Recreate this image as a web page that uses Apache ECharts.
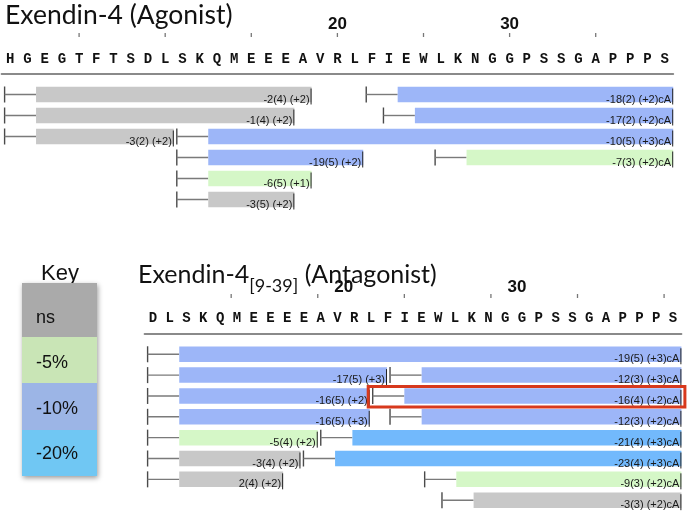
<!DOCTYPE html>
<html>
<head>
<meta charset="utf-8">
<script src="https://cdn.jsdelivr.net/npm/echarts@6/dist/echarts.min.js"></script>
<style>html,body{margin:0;padding:0;background:#fff}#c{width:689px;height:513px}</style>
</head>
<body>
<div id="c"></div>
<script>
// ---------- DATA ----------
const topSequence = 'HGEGTFTSDLSKQMEEEAVRLFIEWLKNGGPSSGAPPPS'.split('');
const bottomSequence = 'DLSKQMEEEEAVRLFIEWLKNGGPSSGAPPPS'.split('');
const topTicks = [5, 10, 15, 20, 25, 30, 35];
const topTickLabels = [20, 30];
const bottomTicks = [13.5, 18.5, 23.5, 28.5, 33.5, 38.5];
const bottomTickLabels = [20, 30];

const classes = ['ns', '-5%', '-10%', '-20%'];

// Agonist fragments
const topRows    = [1, 1, 2, 2, 3, 3, 4, 4, 5, 6];
const topStarts  = [1, 22, 1, 23, 1, 11, 11, 26, 11, 11];
const topEnds    = [18, 39, 17, 39, 10, 39, 21, 39, 18, 17];
const topClass   = ['ns', '-10%', 'ns', '-10%', 'ns', '-10%', '-10%', '-5%', '-5%', 'ns'];
const topLabels  = ['-2(4) (+2)', '-18(2) (+2)cA', '-1(4) (+2)', '-17(2) (+2)cA', '-3(2) (+2)', '-10(5) (+3)cA',
                    '-19(5) (+2)', '-7(3) (+2)cA', '-6(5) (+1)', '-3(5) (+2)'];

// Antagonist fragments
const botRows    = [1, 2, 2, 3, 3, 4, 4, 5, 5, 6, 6, 7, 7, 8];
const botStarts  = [9, 9, 23, 9, 22, 9, 23, 9, 19, 9, 18, 9, 25, 26];
const botEnds    = [39, 22, 39, 21, 39, 21, 39, 18, 39, 17, 39, 16, 39, 39];
const botClass   = ['-10%', '-10%', '-10%', '-10%', '-10%', '-10%', '-10%', '-5%', '-20%', 'ns', '-20%', 'ns', '-5%', 'ns'];
const botLabels  = ['-19(5) (+3)cA', '-17(5) (+3)', '-12(3) (+3)cA', '-16(5) (+2)', '-16(4) (+2)cA', '-16(5) (+3)', '-12(3) (+2)cA',
                    '-5(4) (+2)', '-21(4) (+3)cA', '-3(4) (+2)', '-23(4) (+3)cA', '2(4) (+2)', '-9(3) (+2)cA', '-3(3) (+2)cA'];
const highlighted = [4]; // index into bottom fragments

// ---------- STYLE ----------
const barColors = {'ns': '#c8c8c8', '-5%': '#d5f7c7', '-10%': '#9db6f8', '-20%': '#72b9fc'};
const keyColors = {'ns': '#aaaaaa', '-5%': '#c9e5b6', '-10%': '#9cb5e6', '-20%': '#70c7f3'};

function fragRenderer(rows, starts, ends, cls, labels) {
  return function (params, api) {
    const i = params.dataIndex;
    const row = rows[i], s = starts[i], e = ends[i];
    const p0 = api.coord([s - 0.5, row]);
    const yC = p0[1];
    const xTick = p0[0] + 3;
    const xBar0 = api.coord([s + 1.5, row])[0];
    const xBar1 = api.coord([e + 0.5, row])[0];
    const h = 15.5;
    return {
      type: 'group',
      children: [
        {type: 'line', shape: {x1: xTick, y1: yC - 8, x2: xTick, y2: yC + 8}, style: {stroke: '#4a4a4a', lineWidth: 1.4}},
        {type: 'line', shape: {x1: xTick, y1: yC, x2: xBar0, y2: yC}, style: {stroke: '#7a7a7a', lineWidth: 1.4}},
        {type: 'rect', shape: {x: xBar0, y: yC - h / 2, width: xBar1 - xBar0, height: h}, style: {fill: barColors[cls[i]]}},
        {type: 'line', shape: {x1: xBar1 - 0.5, y1: yC - 6, x2: xBar1 - 0.5, y2: yC + 10}, style: {stroke: '#222', lineWidth: 1}},
        {type: 'text', style: {x: xBar1 - 2, y: yC + 5, text: labels[i], align: 'right', verticalAlign: 'middle',
          font: '11px "Liberation Sans", Arial, sans-serif', fill: '#1a1a1a'}}
      ]
    };
  };
}

function tickRenderer(params, api) {
  const x = api.coord([api.value(0), 0])[0];
  const y = params.coordSys.y;
  return {type: 'line', shape: {x1: x, y1: y - 1, x2: x, y2: y - 5}, style: {stroke: '#777', lineWidth: 1.3}};
}

function highlightRenderer(params, api) {
  const i = highlighted[params.dataIndex];
  const row = botRows[i];
  const p0 = api.coord([botStarts[i] - 0.5, row]);
  const p1 = api.coord([botEnds[i] + 0.5, row]);
  const yC = p0[1];
  return {
    type: 'rect',
    shape: {x: p0[0] - 1.5, y: yC - 9.5, width: p1[0] - p0[0] + 5, height: 20.5},
    style: {fill: 'none', stroke: '#d7391d', lineWidth: 3}
  };
}

const seqLabelStyle = {
  inside: true, interval: 0, margin: 14,
  fontFamily: '"Liberation Mono", "DejaVu Sans Mono", monospace', fontWeight: 'bold', fontSize: 14, color: '#111'
};

// title pieces (main / subscript / main)
const titleFont = '25px Lato, "Open Sans", sans-serif';
const subFont = '18px Lato, "Open Sans", sans-serif';
const measureCtx = document.createElement('canvas').getContext('2d');
function textWidth(t, f) { measureCtx.font = f; return measureCtx.measureText(t).width; }
const tX0 = 138;
const tW1 = textWidth('Exendin-4', titleFont);
const tW2 = textWidth('[9-39]', subFont);

const option = {
  animation: false,
  grid: [
    {left: 1.6, width: 671.6, top: 38, height: 172},
    {left: 144.6, width: 536.8, top: 299, height: 214.9}
  ],
  xAxis: [
    {gridIndex: 0, type: 'value', position: 'top', min: 0.5, max: 39.5,
      axisLine: {show: true, lineStyle: {color: '#8a8a8a', width: 2}},
      axisTick: {show: false},
      axisLabel: {show: true, customValues: topTickLabels, margin: 5, fontFamily: '"Liberation Sans", Arial',
        fontWeight: 'bold', fontSize: 17, color: '#111'},
      splitLine: {show: false}},
    {gridIndex: 0, type: 'category', position: 'top', data: topSequence,
      axisLine: {show: false}, axisTick: {show: false}, axisLabel: seqLabelStyle, splitLine: {show: false}},
    {gridIndex: 1, type: 'value', position: 'top', min: 8.5, max: 39.5,
      axisLine: {show: true, lineStyle: {color: '#8a8a8a', width: 2}},
      axisTick: {show: false},
      axisLabel: {show: true, customValues: bottomTickLabels, margin: 3, fontFamily: '"Liberation Sans", Arial',
        fontWeight: 'bold', fontSize: 17, color: '#111'},
      splitLine: {show: false}},
    {gridIndex: 1, type: 'category', position: 'top', data: bottomSequence,
      axisLine: {show: false}, axisTick: {show: false}, axisLabel: Object.assign({}, seqLabelStyle, {margin: 12}), splitLine: {show: false}}
  ],
  yAxis: [
    {gridIndex: 0, type: 'value', inverse: true, min: -1.69, max: 6.5, show: false},
    {gridIndex: 1, type: 'value', inverse: true, min: -1.652, max: 8.615, show: false}
  ],
  series: [
    {type: 'custom', xAxisIndex: 0, yAxisIndex: 0, clip: false,
      data: topTicks.map(v => [v]), encode: {x: 0}, renderItem: tickRenderer},
    {type: 'custom', xAxisIndex: 2, yAxisIndex: 1, clip: false,
      data: bottomTicks.map(v => [v]), encode: {x: 0}, renderItem: tickRenderer},
    {type: 'custom', xAxisIndex: 0, yAxisIndex: 0, clip: false,
      data: topRows.map((r, i) => [r, topStarts[i], topEnds[i]]), encode: {y: 0, x: [1, 2]},
      renderItem: fragRenderer(topRows, topStarts, topEnds, topClass, topLabels)},
    {type: 'custom', xAxisIndex: 2, yAxisIndex: 1, clip: false,
      data: botRows.map((r, i) => [r, botStarts[i], botEnds[i]]), encode: {y: 0, x: [1, 2]},
      renderItem: fragRenderer(botRows, botStarts, botEnds, botClass, botLabels)},
    {type: 'custom', xAxisIndex: 2, yAxisIndex: 1, clip: false, z: 5,
      data: highlighted.map(i => [botRows[i], botStarts[i], botEnds[i]]), encode: {y: 0, x: [1, 2]},
      renderItem: highlightRenderer}
  ],
  graphic: [
    {type: 'text', left: 5, top: 2, style: {text: 'Exendin-4 (Agonist)', font: '26.5px Lato, "Open Sans", sans-serif', fill: '#111'}},
    {type: 'text', style: {x: tX0, y: 275, text: 'Exendin-4', font: titleFont, fill: '#111', verticalAlign: 'middle'}},
    {type: 'text', style: {x: tX0 + tW1, y: 286, text: '[9-39]', font: subFont, fill: '#111', verticalAlign: 'middle'}},
    {type: 'text', style: {x: tX0 + tW1 + tW2, y: 275, text: ' (Antagonist)', font: titleFont, fill: '#111', verticalAlign: 'middle'}},
    {type: 'text', left: 41, top: 263, style: {text: 'Key', font: '22px "Liberation Sans", Arial', fill: '#111'}},
    {type: 'group', left: 22, top: 283, children: (function () {
      const cellTops = [0, 54, 100, 147];
      const cellH = [54, 46, 47, 46];
      const labelOffsets = [35, 26, 26, 24];
      const items = [{type: 'rect', shape: {x: 0, y: 0, width: 75, height: 193},
        style: {fill: '#ddd', shadowBlur: 5, shadowColor: 'rgba(0,0,0,0.4)', shadowOffsetX: 1, shadowOffsetY: 2}}];
      classes.forEach((c, k) => {
        items.push({type: 'rect', shape: {x: 0, y: cellTops[k], width: 75, height: cellH[k]}, style: {fill: keyColors[c]}});
        items.push({type: 'text', style: {x: 14, y: cellTops[k] + labelOffsets[k], text: c, verticalAlign: 'middle',
          font: '18px "Liberation Sans", Arial', fill: '#111'}});
      });
      return items;
    })()}
  ]
};

const chart = echarts.init(document.getElementById('c'), null, {renderer: 'canvas'});
chart.setOption(option);
</script>
</body>
</html>
